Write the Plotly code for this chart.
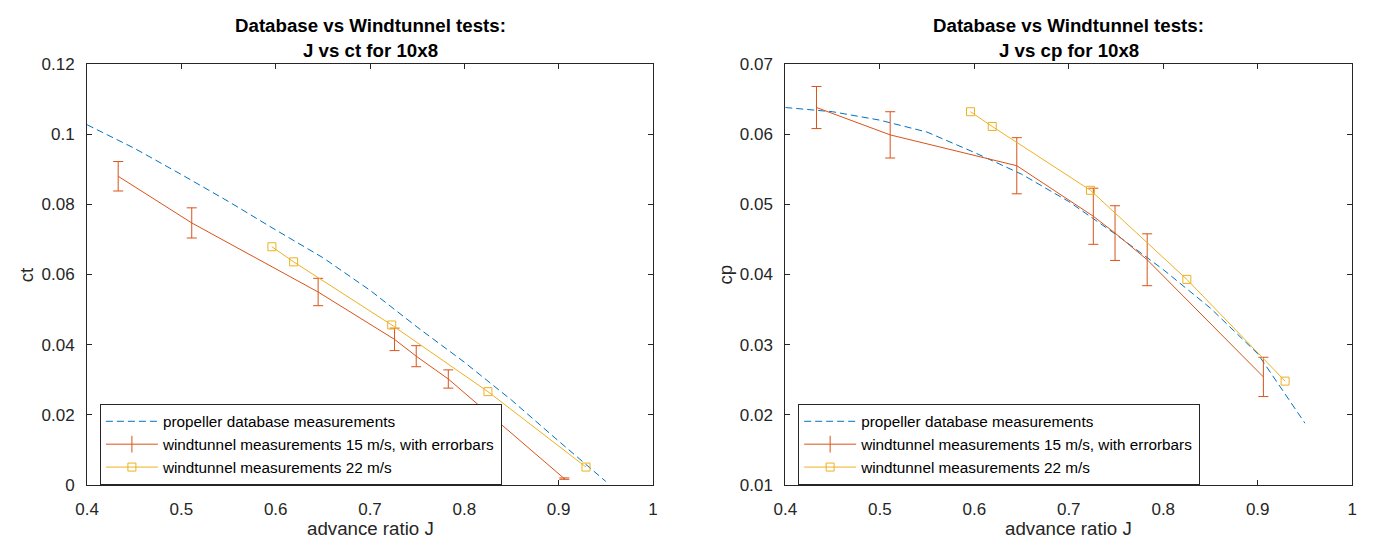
import plotly.graph_objects as go

# ---------------- data ----------------
J_db = [0.40, 0.45, 0.50, 0.55, 0.60, 0.65, 0.70, 0.75, 0.80, 0.85, 0.90, 0.95]
ct_db = [0.1027, 0.0960, 0.0885, 0.0808, 0.0727, 0.0648, 0.0555, 0.0450, 0.0350, 0.0242, 0.0125, 0.0010]
cp_db = [0.0638, 0.0632, 0.0620, 0.0603, 0.0574, 0.0543, 0.0504, 0.0457, 0.0407, 0.0352, 0.0287, 0.0188]

J15 = [0.433, 0.511, 0.645, 0.726, 0.749, 0.783, 0.906]
ct15 = [0.0880, 0.0747, 0.0550, 0.0415, 0.0367, 0.0302, 0.0018]
ct15_err = [0.0042, 0.0043, 0.0039, 0.0032, 0.0030, 0.0026, 0.0002]
cp15 = [0.0638, 0.0599, 0.0555, 0.0483, 0.0459, 0.0421, 0.0254]
cp15_err = [0.0030, 0.0033, 0.0040, 0.0040, 0.0039, 0.0037, 0.0028]

J22 = [0.596, 0.619, 0.723, 0.825, 0.929]
ct22 = [0.0679, 0.0636, 0.0456, 0.0266, 0.0051]
cp22 = [0.0632, 0.0611, 0.0520, 0.0393, 0.0248]

names = ["propeller database measurements",
         "windtunnel measurements 15 m/s, with errorbars",
         "windtunnel measurements 22 m/s"]
titles = [["Database vs Windtunnel tests:", "J vs ct for 10x8"],
          ["Database vs Windtunnel tests:", "J vs cp for 10x8"]]
ylabels = ["ct", "cp"]
xlabel = "advance ratio J"
xticks = [0.4, 0.5, 0.6, 0.7, 0.8, 0.9, 1.0]
xticktext = ["0.4", "0.5", "0.6", "0.7", "0.8", "0.9", "1"]
yticks_ct = [0, 0.02, 0.04, 0.06, 0.08, 0.1, 0.12]
yticktext_ct = ["0", "0.02", "0.04", "0.06", "0.08", "0.1", "0.12"]
yticks_cp = [0.01, 0.02, 0.03, 0.04, 0.05, 0.06, 0.07]
yticktext_cp = ["0.01", "0.02", "0.03", "0.04", "0.05", "0.06", "0.07"]

# ---------------- style ----------------
W, H = 1373, 549
BLUE = "#0072BD"
ORANGE = "#D95319"
YELLOW = "#EDB120"
AX = "#262626"
FONT = "Liberation Sans, Arial, Helvetica, sans-serif"

x1dom = [76 / W, 649 / W]
x2dom = [783 / W, 1357 / W]
ydom = [1 - 493 / H, 1 - 57 / H]

fig = go.Figure()

def add_panel(xa, ya, leg, yvals, yerr, y22):
    fig.add_trace(go.Scatter(x=J_db, y=yvals[0], mode="lines", name=names[0],
                             line=dict(color=BLUE, width=1, dash="7px,4px"),
                             xaxis=xa, yaxis=ya, legend=leg))
    # legend-only entry for the errorbar series (line with an I-bar)
    fig.add_trace(go.Scatter(x=[None], y=[None], mode="lines+markers", name=names[1],
                             line=dict(color=ORANGE, width=1),
                             marker=dict(symbol="line-ns-open", size=12,
                                         line=dict(width=1, color=ORANGE), color=ORANGE),
                             xaxis=xa, yaxis=ya, legend=leg))
    fig.add_trace(go.Scatter(x=J15, y=yvals[1], mode="lines", name=names[1],
                             line=dict(color=ORANGE, width=1), showlegend=False,
                             error_y=dict(type="data", array=yerr, visible=True,
                                          color=ORANGE, thickness=1, width=5),
                             xaxis=xa, yaxis=ya, legend=leg))
    fig.add_trace(go.Scatter(x=J22, y=y22, mode="lines+markers", name=names[2],
                             line=dict(color=YELLOW, width=1),
                             marker=dict(symbol="square-open", size=8,
                                         color=YELLOW, line=dict(width=1, color=YELLOW)),
                             xaxis=xa, yaxis=ya, legend=leg))

add_panel("x", "y", "legend", [ct_db, ct15], ct15_err, ct22)
add_panel("x2", "y2", "legend2", [cp_db, cp15], cp15_err, cp22)

axcommon = dict(showline=True, linecolor=AX, linewidth=1, mirror="allticks",
                ticks="inside", ticklen=5, tickcolor=AX, tickwidth=1,
                showgrid=False, zeroline=False,
                tickfont=dict(family=FONT, size=17, color=AX))
xax = dict(axcommon, ticklabelstandoff=9)
yax = dict(axcommon, ticklabelstandoff=8)

legcommon = dict(xanchor="left", yanchor="top", y=1 - 409 / H,
                 bgcolor="white", bordercolor=AX, borderwidth=1,
                 font=dict(family=FONT, size=15.3, color="black"),
                 itemwidth=52, tracegroupgap=0)

fig.update_layout(
    width=W, height=H,
    margin=dict(l=0, r=0, t=0, b=0),
    paper_bgcolor="white", plot_bgcolor="white",
    font=dict(family=FONT, color=AX),
    xaxis=dict(domain=x1dom, range=[0.4, 1.0], tickvals=xticks, ticktext=xticktext,
               anchor="y", **xax),
    yaxis=dict(domain=ydom, range=[0, 0.12], tickvals=yticks_ct, ticktext=yticktext_ct,
               anchor="x", **yax),
    xaxis2=dict(domain=x2dom, range=[0.4, 1.0], tickvals=xticks, ticktext=xticktext,
                anchor="y2", **xax),
    yaxis2=dict(domain=ydom, range=[0.01, 0.07], tickvals=yticks_cp, ticktext=yticktext_cp,
                anchor="x2", **yax),
    legend=dict(x=89 / W, **legcommon),
    legend2=dict(x=796 / W, **legcommon),
    showlegend=True,
)

ann = []
centers = [(x1dom[0] + x1dom[1]) / 2, (x2dom[0] + x2dom[1]) / 2]
ylab_x = [15 / W, 722 / W]
for i in range(2):
    ann.append(dict(text="<b>%s</b>" % titles[i][0], x=centers[i], y=1 - 17.3 / H,
                    xref="paper", yref="paper", xanchor="center", yanchor="middle",
                    showarrow=False, font=dict(family=FONT, size=18.7, color="black")))
    ann.append(dict(text="<b>%s</b>" % titles[i][1], x=centers[i], y=1 - 42.7 / H,
                    xref="paper", yref="paper", xanchor="center", yanchor="middle",
                    showarrow=False, font=dict(family=FONT, size=18.7, color="black")))
    ann.append(dict(text=xlabel, x=centers[i], y=1 - 538 / H,
                    xref="paper", yref="paper", xanchor="center", yanchor="middle",
                    showarrow=False, font=dict(family=FONT, size=18.7, color=AX)))
    ann.append(dict(text=ylabels[i], x=ylab_x[i], y=(ydom[0] + ydom[1]) / 2,
                    xref="paper", yref="paper", xanchor="center", yanchor="middle",
                    textangle=-90, showarrow=False,
                    font=dict(family=FONT, size=18.7, color=AX)))
fig.update_layout(annotations=ann)

fig.write_html("out.html", config={"displayModeBar": False},
               post_script="document.body.style.margin='0px';")
